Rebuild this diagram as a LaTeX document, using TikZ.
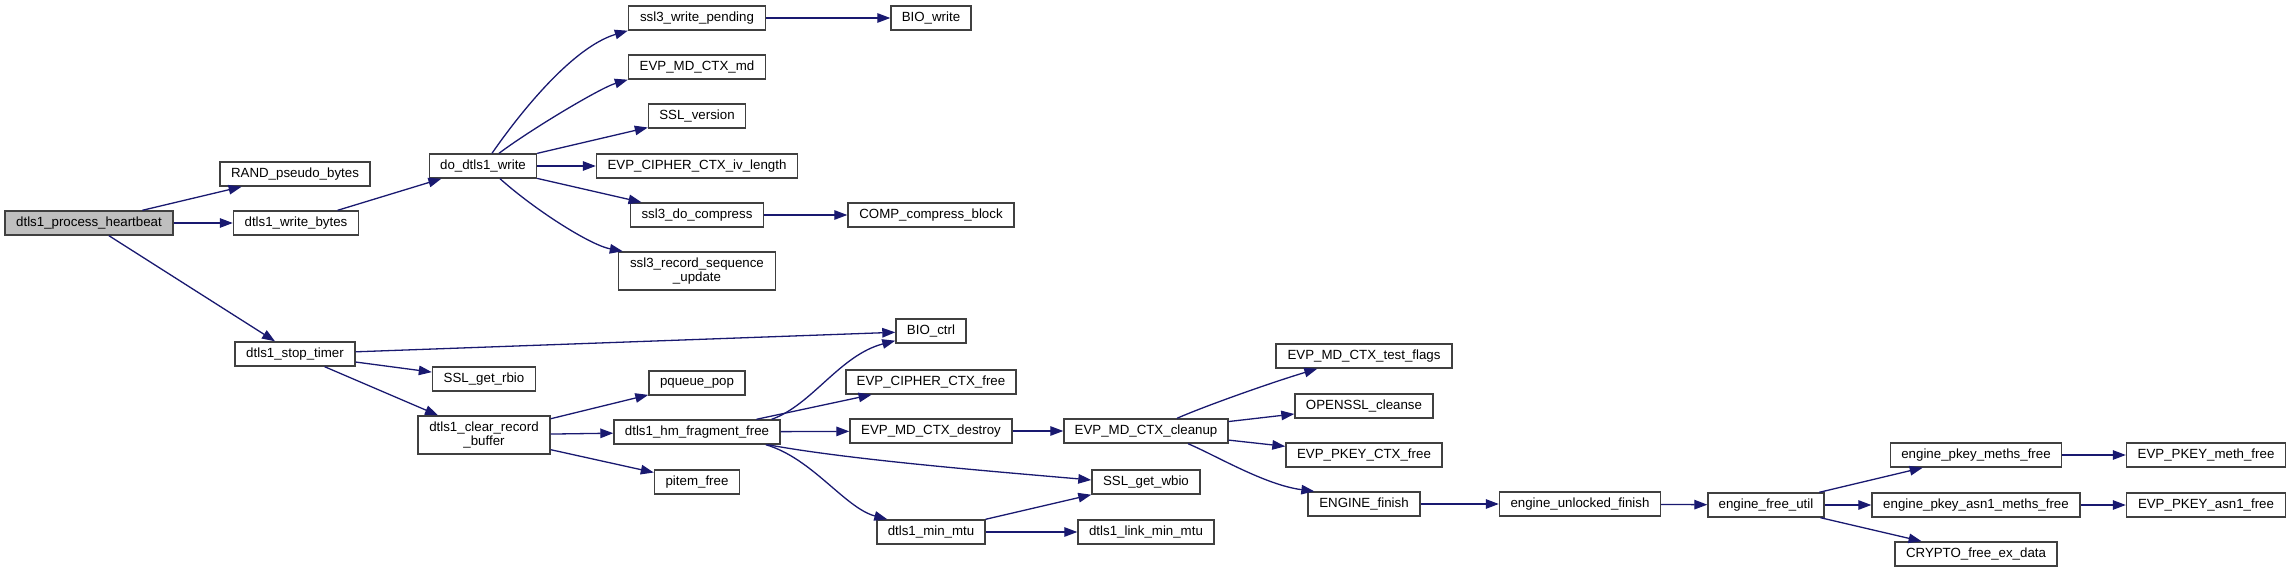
\documentclass[tikz,border=0pt]{standalone}
\usepackage{fontspec}
\setmainfont{Liberation Sans}
\usetikzlibrary{arrows.meta}
\definecolor{edgeblue}{HTML}{191970}
\definecolor{boxline}{HTML}{404040}
\definecolor{rootfill}{HTML}{BFBFBF}
\begin{document}
\begin{tikzpicture}[x=1pt,y=-1pt,
  fn/.style={draw=boxline, line width=1.4pt, fill=white, inner sep=0pt, minimum height=24pt,
    font=\fontsize{13.3}{13.6}\selectfont, align=center},
  rootfn/.style={fn, fill=rootfill},
  call/.style={draw=edgeblue, line width=1.3pt, -{Triangle[length=13pt,width=9.5pt]}, edgeblue}]
\useasboundingbox (0,0) rectangle (2291,572);
% nodes
\node[rootfn, minimum width=168pt] (hb) at (89,223) {dtls1\_process\_heartbeat};
\node[fn, minimum width=150pt] (rand) at (295,174) {RAND\_pseudo\_bytes};
\node[fn, minimum width=125pt] (wb) at (296,223) {dtls1\_write\_bytes};
\node[fn, minimum width=107pt] (dw) at (483,166) {do\_dtls1\_write};
\node[fn, minimum width=120pt] (st) at (295,354) {dtls1\_stop\_timer};
\node[fn, minimum width=103pt] (rbio) at (484,379) {SSL\_get\_rbio};
\node[fn, minimum width=132pt, minimum height=38pt] (clear) at (484,435) {dtls1\_clear\_record\\\_buffer};
\node[fn, minimum width=137pt] (swp) at (697,18) {ssl3\_write\_pending};
\node[fn, minimum width=80pt] (bw) at (931,18) {BIO\_write};
\node[fn, minimum width=137pt] (md) at (697,67) {EVP\_MD\_CTX\_md};
\node[fn, minimum width=97pt] (ver) at (697,116) {SSL\_version};
\node[fn, minimum width=201pt] (iv) at (697,166) {EVP\_CIPHER\_CTX\_iv\_length};
\node[fn, minimum width=133pt] (comp) at (697,215) {ssl3\_do\_compress};
\node[fn, minimum width=166pt] (ccb) at (931,215) {COMP\_compress\_block};
\node[fn, minimum width=157pt, minimum height=38pt] (rsu) at (697,271) {ssl3\_record\_sequence\\\_update};
\node[fn, minimum width=70pt] (ctrl) at (931,331) {BIO\_ctrl};
\node[fn, minimum width=96pt] (pop) at (697,383) {pqueue\_pop};
\node[fn, minimum width=170pt] (cfree) at (931,382) {EVP\_CIPHER\_CTX\_free};
\node[fn, minimum width=166pt] (hm) at (697,432) {dtls1\_hm\_fragment\_free};
\node[fn, minimum width=162pt] (destroy) at (931,431) {EVP\_MD\_CTX\_destroy};
\node[fn, minimum width=164pt] (cleanup) at (1146,431) {EVP\_MD\_CTX\_cleanup};
\node[fn, minimum width=85pt] (pitem) at (697,482) {pitem\_free};
\node[fn, minimum width=108pt] (wbio) at (1146,482) {SSL\_get\_wbio};
\node[fn, minimum width=108pt] (mtu) at (931,532) {dtls1\_min\_mtu};
\node[fn, minimum width=136pt] (link) at (1146,532) {dtls1\_link\_min\_mtu};
\node[fn, minimum width=176pt] (tf) at (1364,356) {EVP\_MD\_CTX\_test\_flags};
\node[fn, minimum width=138pt] (cl) at (1364,406) {OPENSSL\_cleanse};
\node[fn, minimum width=156pt] (pkf) at (1364,455) {EVP\_PKEY\_CTX\_free};
\node[fn, minimum width=112pt] (ef) at (1364,504) {ENGINE\_finish};
\node[fn, minimum width=161pt] (euf) at (1580,504) {engine\_unlocked\_finish};
\node[fn, minimum width=116pt] (efu) at (1766,505) {engine\_free\_util};
\node[fn, minimum width=171pt] (epm) at (1976,455) {engine\_pkey\_meths\_free};
\node[fn, minimum width=208pt] (epa) at (1976,505) {engine\_pkey\_asn1\_meths\_free};
\node[fn, minimum width=162pt] (cfed) at (1976,554) {CRYPTO\_free\_ex\_data};
\node[fn, minimum width=159pt] (pmf) at (2206,455) {EVP\_PKEY\_meth\_free};
\node[fn, minimum width=159pt] (paf) at (2206,505) {EVP\_PKEY\_asn1\_free};
% edges
\draw[call] (hb) -- (rand);
\draw[call] (hb) -- (wb);
\draw[call] (hb) -- (st);
\draw[call] (wb) -- (dw);
\draw[call] ([xshift=9pt]dw.north) .. controls (515,120) and (570,48) .. (swp.south west);
\draw[call] ([xshift=16pt]dw.north) .. controls (530,130) and (600,88) .. (md.south west);
\draw[call] (dw) -- (ver);
\draw[call] (dw) -- (iv);
\draw[call] (dw) -- (comp);
\draw[call] ([xshift=17pt]dw.south) .. controls (535,210) and (590,245) .. ([xshift=5pt]rsu.north west);
\draw[call] (swp) -- (bw);
\draw[call] (comp) -- (ccb);
\draw[call] (st) -- (ctrl);
\draw[call] (st) -- (rbio);
\draw[call] (st) -- (clear);
\draw[call] (clear) -- (pop);
\draw[call] (clear) -- (hm);
\draw[call] (clear) -- (pitem);
\draw[call] ([xshift=-9pt]hm.north east) .. controls (812,405) and (840,355) .. ([yshift=3pt]ctrl.south west);
\draw[call] (hm) -- (cfree);
\draw[call] (hm) -- (destroy);
\draw[call] ([xshift=-13pt]hm.south east) .. controls (850,460) and (1000,472) .. ([yshift=2pt]wbio.west);
\draw[call] ([xshift=-15pt]hm.south east) .. controls (812,458) and (845,508) .. ([xshift=11pt]mtu.north west);
\draw[call] (destroy) -- (cleanup);
\draw[call] (mtu) -- (wbio);
\draw[call] (mtu) -- (link);
\draw[call] ([xshift=31pt]cleanup.north) .. controls (1205,406) and (1270,383) .. ([xshift=42pt]tf.south west);
\draw[call] (cleanup) -- (cl);
\draw[call] (cleanup) -- (pkf);
\draw[call] ([xshift=42pt]cleanup.south) .. controls (1215,455) and (1265,485) .. ([xshift=7pt]ef.north west);
\draw[call] (ef) -- (euf);
\draw[call] (euf) -- (efu);
\draw[call] (efu) -- (epm);
\draw[call] (efu) -- (epa);
\draw[call] (efu) -- (cfed);
\draw[call] (epm) -- (pmf);
\draw[call] (epa) -- (paf);
\end{tikzpicture}
\end{document}
